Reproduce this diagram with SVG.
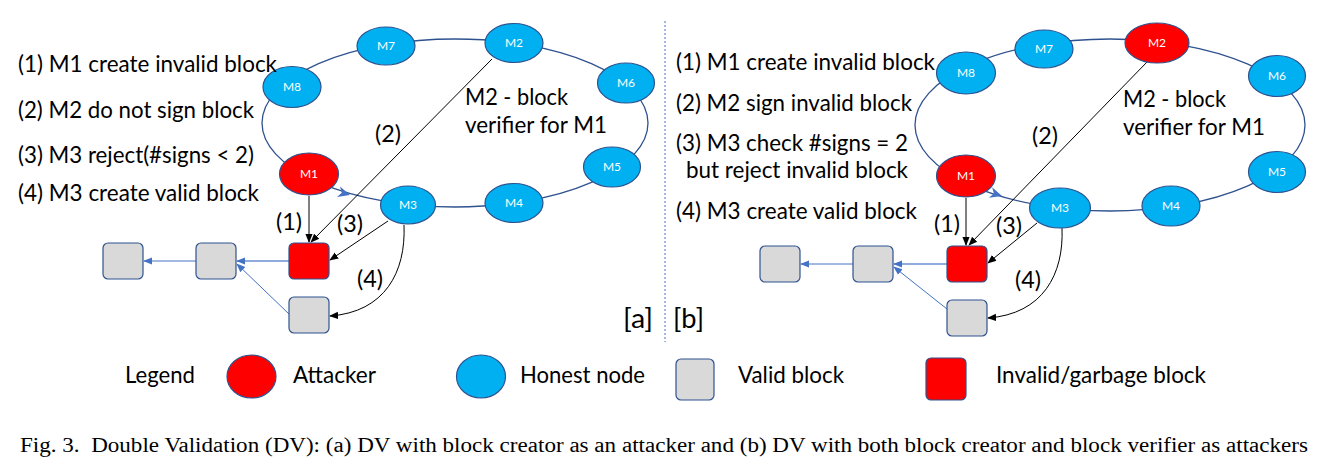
<svg xmlns="http://www.w3.org/2000/svg" width="1330" height="473" viewBox="0 0 1330 473">
<style>
.t{font-family:Lato,"Liberation Sans",sans-serif;font-size:24px;fill:#000}
.br{font-family:Lato,"Liberation Sans",sans-serif;font-size:27px;fill:#000}
.nl{font-family:Lato,"Liberation Sans",sans-serif;font-size:12px;fill:#fff;text-anchor:middle}
.ring{fill:none;stroke:#2F528F;stroke-width:1.3}
.hn{fill:#00B0F0;stroke:#2F528F;stroke-width:1.2}
.at{fill:#FF0000;stroke:#2F528F;stroke-width:1.2}
.vb{fill:#D9D9D9;stroke:#2F528F;stroke-width:1.2}
.ib{fill:#FF0000;stroke:#2F528F;stroke-width:1.2}
.blk{fill:none;stroke:#000;stroke-width:1}
.bl{fill:none;stroke:#4472C4;stroke-width:1}
.bl2{fill:none;stroke:#8FAADC;stroke-width:2}
.rh{fill:#4472C4}
.div{stroke:#4472C4;stroke-width:1;stroke-dasharray:2 2}
.cap{font-family:"Liberation Serif",serif;font-size:20px;fill:#000;white-space:pre}
</style>
<defs>
<marker id="ab" viewBox="0 0 10 10" refX="9" refY="5" markerWidth="9" markerHeight="9" markerUnits="userSpaceOnUse" orient="auto"><path d="M0,1 L10,5 L0,9 Z" fill="#000"/></marker>
<marker id="abl" viewBox="0 0 10 10" refX="9" refY="5" markerWidth="9" markerHeight="9" markerUnits="userSpaceOnUse" orient="auto"><path d="M0,1 L10,5 L0,9 Z" fill="#4472C4"/></marker>
<path id="chev" d="M0,0 L-12,-5.5 L-8.5,0 L-12,5.5 Z"/>
</defs>

<!-- Panel a -->
<g id="a-ring"><ellipse class="ring" cx="455" cy="123" rx="193" ry="84"/></g>
<g id="a-connectors">
<use href="#chev" class="rh" transform="translate(350,195) rotate(16)"/>
<line class="blk" x1="309" y1="196" x2="309" y2="242" marker-end="url(#ab)"/>
<line class="blk" x1="492" y1="59" x2="311" y2="242" marker-end="url(#ab)"/>
<line class="blk" x1="388" y1="221" x2="330" y2="260" marker-end="url(#ab)"/>
<path class="blk" d="M404,225 C406,272 385,312 330,316" marker-end="url(#ab)"/>
<line class="bl2" x1="289" y1="261" x2="237" y2="261" marker-end="url(#abl)"/>
<line class="bl" x1="196" y1="261" x2="144" y2="261" marker-end="url(#abl)"/>
<line class="bl" x1="289" y1="314" x2="237" y2="264" marker-end="url(#abl)"/>
</g>
<g id="a-M7"><ellipse class="hn" cx="386" cy="46" rx="29" ry="19"/><text class="nl" x="386" y="50">M7</text></g>
<g id="a-M2"><ellipse class="hn" cx="514" cy="43" rx="29" ry="19.5"/><text class="nl" x="514" y="47">M2</text></g>
<g id="a-M8"><ellipse class="hn" cx="292" cy="87" rx="29" ry="20.5"/><text class="nl" x="292" y="91">M8</text></g>
<g id="a-M6"><ellipse class="hn" cx="626" cy="83" rx="28.5" ry="20"/><text class="nl" x="626" y="87">M6</text></g>
<g id="a-M5"><ellipse class="hn" cx="612" cy="167" rx="28.5" ry="20"/><text class="nl" x="612" y="171">M5</text></g>
<g id="a-M4"><ellipse class="hn" cx="514" cy="203" rx="29" ry="19.5"/><text class="nl" x="514" y="207">M4</text></g>
<g id="a-M3"><ellipse class="hn" cx="408" cy="205" rx="27.5" ry="19"/><text class="nl" x="408" y="209">M3</text></g>
<g id="a-M1"><ellipse class="at" cx="309" cy="174" rx="29.5" ry="21"/><text class="nl" x="309" y="178">M1</text></g>
<g id="a-block-invalid"><rect class="ib" x="289" y="243" width="40" height="36" rx="5"/></g>
<g id="a-block-2"><rect class="vb" x="196" y="243" width="40" height="36" rx="5"/></g>
<g id="a-block-1"><rect class="vb" x="103" y="243" width="40" height="36" rx="5"/></g>
<g id="a-block-new"><rect class="vb" x="289" y="297" width="40" height="36" rx="5"/></g>
<g id="a-texts">
<text class="t" x="18" y="72" textLength="259" lengthAdjust="spacingAndGlyphs">(1) M1 create invalid block</text>
<text class="t" x="18" y="118" textLength="236" lengthAdjust="spacingAndGlyphs">(2) M2 do not sign block</text>
<text class="t" x="18" y="163" textLength="236" lengthAdjust="spacingAndGlyphs">(3) M3 reject(#signs &lt; 2)</text>
<text class="t" x="18" y="201" textLength="241" lengthAdjust="spacingAndGlyphs">(4) M3 create valid block</text>
<text class="t" x="465" y="105" textLength="103" lengthAdjust="spacingAndGlyphs">M2 - block</text>
<text class="t" x="465" y="133" textLength="142" lengthAdjust="spacingAndGlyphs">verifier for M1</text>
<text class="t" x="375" y="142" textLength="26" lengthAdjust="spacingAndGlyphs">(2)</text>
<text class="t" x="276" y="230" textLength="26" lengthAdjust="spacingAndGlyphs">(1)</text>
<text class="t" x="337" y="232" textLength="26" lengthAdjust="spacingAndGlyphs">(3)</text>
<text class="t" x="357" y="287" textLength="26" lengthAdjust="spacingAndGlyphs">(4)</text>
<text class="br" x="623" y="328" textLength="30" lengthAdjust="spacingAndGlyphs">[a]</text>
</g>

<line class="div" x1="665" y1="21" x2="665" y2="342"/>

<!-- Panel b -->
<g id="b-ring"><ellipse class="ring" cx="1110" cy="125" rx="195" ry="86"/></g>
<g id="b-connectors">
<use href="#chev" class="rh" transform="translate(1002,196) rotate(17)"/>
<line class="blk" x1="966" y1="198" x2="966" y2="245" marker-end="url(#ab)"/>
<line class="blk" x1="1148" y1="61" x2="969" y2="245" marker-end="url(#ab)"/>
<line class="blk" x1="1037" y1="223" x2="988" y2="263" marker-end="url(#ab)"/>
<path class="blk" d="M1062,228 C1064,274 1043,314 988,318" marker-end="url(#ab)"/>
<line class="bl2" x1="947" y1="264" x2="894" y2="264" marker-end="url(#abl)"/>
<line class="bl" x1="853" y1="264" x2="801" y2="264" marker-end="url(#abl)"/>
<line class="bl" x1="947" y1="309" x2="894" y2="267" marker-end="url(#abl)"/>
</g>
<g id="b-M7"><ellipse class="hn" cx="1044" cy="49" rx="29" ry="19"/><text class="nl" x="1044" y="53">M7</text></g>
<g id="b-M2"><ellipse class="at" cx="1157" cy="43" rx="32" ry="20"/><text class="nl" x="1157" y="47">M2</text></g>
<g id="b-M8"><ellipse class="hn" cx="966" cy="73" rx="29.5" ry="21"/><text class="nl" x="966" y="77">M8</text></g>
<g id="b-M6"><ellipse class="hn" cx="1277" cy="76" rx="28.5" ry="20.5"/><text class="nl" x="1277" y="80">M6</text></g>
<g id="b-M5"><ellipse class="hn" cx="1277" cy="172" rx="28.5" ry="20.5"/><text class="nl" x="1277" y="176">M5</text></g>
<g id="b-M4"><ellipse class="hn" cx="1171" cy="206" rx="29" ry="20"/><text class="nl" x="1171" y="210">M4</text></g>
<g id="b-M3"><ellipse class="hn" cx="1060" cy="208" rx="30.5" ry="20"/><text class="nl" x="1060" y="212">M3</text></g>
<g id="b-M1"><ellipse class="at" cx="966" cy="176" rx="29.5" ry="21"/><text class="nl" x="966" y="180">M1</text></g>
<g id="b-block-invalid"><rect class="ib" x="947" y="246" width="40" height="36" rx="5"/></g>
<g id="b-block-2"><rect class="vb" x="853" y="246" width="40" height="36" rx="5"/></g>
<g id="b-block-1"><rect class="vb" x="760" y="246" width="40" height="36" rx="5"/></g>
<g id="b-block-new"><rect class="vb" x="947" y="300" width="40" height="36" rx="5"/></g>
<g id="b-texts">
<text class="t" x="676" y="70" textLength="259" lengthAdjust="spacingAndGlyphs">(1) M1 create invalid block</text>
<text class="t" x="676" y="111" textLength="236" lengthAdjust="spacingAndGlyphs">(2) M2 sign invalid block</text>
<text class="t" x="676" y="151" textLength="232" lengthAdjust="spacingAndGlyphs">(3) M3 check #signs = 2</text>
<text class="t" x="686" y="178" textLength="222" lengthAdjust="spacingAndGlyphs">but reject invalid block</text>
<text class="t" x="676" y="219" textLength="241" lengthAdjust="spacingAndGlyphs">(4) M3 create valid block</text>
<text class="t" x="1123" y="107" textLength="103" lengthAdjust="spacingAndGlyphs">M2 - block</text>
<text class="t" x="1123" y="135" textLength="142" lengthAdjust="spacingAndGlyphs">verifier for M1</text>
<text class="t" x="1032" y="144" textLength="26" lengthAdjust="spacingAndGlyphs">(2)</text>
<text class="t" x="934" y="232" textLength="26" lengthAdjust="spacingAndGlyphs">(1)</text>
<text class="t" x="996" y="234" textLength="26" lengthAdjust="spacingAndGlyphs">(3)</text>
<text class="t" x="1015" y="288" textLength="26" lengthAdjust="spacingAndGlyphs">(4)</text>
<text class="br" x="673" y="328" textLength="31" lengthAdjust="spacingAndGlyphs">[b]</text>
</g>

<!-- Legend -->
<g id="legend">
<text class="t" x="125" y="383" textLength="70" lengthAdjust="spacingAndGlyphs">Legend</text>
<ellipse class="at" cx="251.5" cy="376.5" rx="24.5" ry="21.5"/>
<text class="t" x="293" y="383" textLength="83" lengthAdjust="spacingAndGlyphs">Attacker</text>
<ellipse class="hn" cx="481" cy="376.5" rx="24.5" ry="21.5"/>
<text class="t" x="520" y="383" textLength="125" lengthAdjust="spacingAndGlyphs">Honest node</text>
<rect class="vb" x="676" y="359" width="38" height="41" rx="5"/>
<text class="t" x="738" y="383" textLength="106" lengthAdjust="spacingAndGlyphs">Valid block</text>
<rect class="ib" x="926" y="358" width="40" height="42" rx="5"/>
<text class="t" x="996" y="383" textLength="210" lengthAdjust="spacingAndGlyphs">Invalid/garbage block</text>
</g>

<text class="cap" x="20" y="452" textLength="1288" lengthAdjust="spacingAndGlyphs">Fig. 3.  Double Validation (DV): (a) DV with block creator as an attacker and (b) DV with both block creator and block verifier as attackers</text>
</svg>
